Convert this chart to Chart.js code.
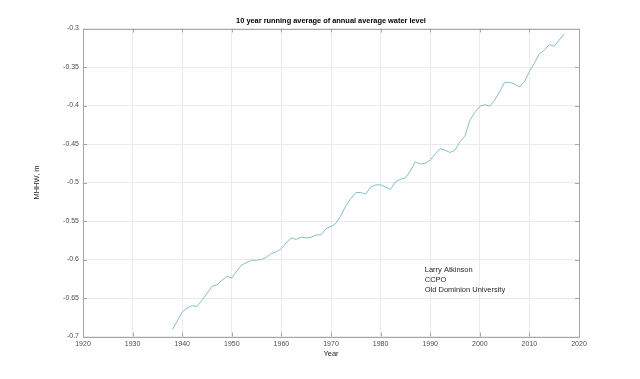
<!DOCTYPE html>
<html>
<head>
<meta charset="utf-8">
<script src="https://cdn.jsdelivr.net/npm/chart.js@4/dist/chart.umd.min.js"></script>
<style>
  html, body { margin: 0; padding: 0; background: #ffffff; }
  #wrap { width: 640px; height: 379px; position: relative; }
</style>
</head>
<body>
<div id="wrap"><canvas id="c" width="640" height="379"></canvas></div>
<script>
// ---- data ----
const years = [
  1938,1939,1940,1941,1942,1943,1944,1945,1946,1947,
  1948,1949,1950,1951,1952,1953,1954,1955,1956,1957,
  1958,1959,1960,1961,1962,1963,1964,1965,1966,1967,
  1968,1969,1970,1971,1972,1973,1974,1975,1976,1977,
  1978,1979,1980,1981,1982,1983,1984,1985,1986,1987,
  1988,1989,1990,1991,1992,1993,1994,1995,1996,1997,
  1998,1999,2000,2001,2002,2003,2004,2005,2006,2007,
  2008,2009,2010,2011,2012,2013,2014,2015,2016,2017
];
const mhhw = [
  -0.691,-0.680,-0.668,-0.663,-0.660,-0.661,-0.653,-0.644,-0.635,-0.633,
  -0.627,-0.622,-0.624,-0.615,-0.607,-0.604,-0.601,-0.601,-0.600,-0.597,
  -0.592,-0.590,-0.586,-0.578,-0.572,-0.574,-0.571,-0.572,-0.571,-0.568,
  -0.568,-0.560,-0.557,-0.553,-0.543,-0.530,-0.521,-0.513,-0.513,-0.515,
  -0.506,-0.503,-0.503,-0.506,-0.509,-0.499,-0.496,-0.494,-0.485,-0.473,
  -0.476,-0.475,-0.471,-0.463,-0.456,-0.458,-0.461,-0.458,-0.447,-0.440,
  -0.419,-0.409,-0.401,-0.399,-0.401,-0.393,-0.382,-0.370,-0.370,-0.372,
  -0.376,-0.369,-0.356,-0.345,-0.333,-0.328,-0.321,-0.323,-0.315,-0.307
];
const xTicks = [1920,1930,1940,1950,1960,1970,1980,1990,2000,2010,2020];
const yTicks = [-0.7,-0.65,-0.6,-0.55,-0.5,-0.45,-0.4,-0.35,-0.3];
const titleText = '10 year running average of annual average water level';
const xLabel = 'Year';
const yLabel = 'MHHW, m';
const noteLines = ['Larry Atkinson', 'CCPO', 'Old Dominion University'];
const noteAt = { x: 1988.9, y: -0.6135 };

// ---- chart ----
const FONT = '"Liberation Sans", Arial, Helvetica, sans-serif';
const AXIS_COLOR = '#a6a6a6';
const GRID_COLOR = '#ebebeb';

const framePlugin = {
  id: 'frame',
  afterDatasetsDraw(chart) {
    const { ctx, chartArea: a, scales } = chart;
    ctx.save();
    ctx.strokeStyle = AXIS_COLOR;
    ctx.lineWidth = 1;
    ctx.beginPath();
    ctx.rect(Math.round(a.left) + 0.5, Math.round(a.top) + 0.5,
             Math.round(a.right - a.left), Math.round(a.bottom - a.top));
    ctx.stroke();
    // inward tick marks
    const tl = 4;
    ctx.beginPath();
    scales.x.ticks.forEach(t => {
      const px = Math.round(scales.x.getPixelForValue(t.value)) + 0.5;
      ctx.moveTo(px, a.bottom); ctx.lineTo(px, a.bottom - tl);
      ctx.moveTo(px, a.top); ctx.lineTo(px, a.top + tl);
    });
    scales.y.ticks.forEach(t => {
      const py = Math.round(scales.y.getPixelForValue(t.value)) + 0.5;
      ctx.moveTo(a.left, py); ctx.lineTo(a.left + tl, py);
      ctx.moveTo(a.right, py); ctx.lineTo(a.right - tl, py);
    });
    ctx.stroke();
    // title, centred over the plot area
    ctx.fillStyle = '#000000';
    ctx.font = 'bold 7.4px ' + FONT;
    ctx.textAlign = 'center';
    ctx.textBaseline = 'middle';
    ctx.fillText(titleText, (a.left + a.right) / 2, a.top - 7.5);
    // annotation
    ctx.fillStyle = '#262626';
    ctx.font = '7.5px ' + FONT;
    ctx.textAlign = 'left';
    ctx.textBaseline = 'middle';
    const x0 = scales.x.getPixelForValue(noteAt.x);
    const y0 = scales.y.getPixelForValue(noteAt.y);
    noteLines.forEach((s, i) => ctx.fillText(s, x0, y0 + i * 10));
    ctx.restore();
  }
};

new Chart(document.getElementById('c'), {
  type: 'line',
  data: {
    datasets: [{
      data: years.map((y, i) => ({ x: y, y: mhhw[i] })),
      borderColor: '#84c0c6',
      borderWidth: 1,
      pointRadius: 0,
      tension: 0,
      fill: false
    }]
  },
  options: {
    responsive: false,
    animation: false,
    devicePixelRatio: 1,
    layout: { padding: { left: 0, right: 61, top: 28.5, bottom: 0 } },
    plugins: {
      legend: { display: false },
      tooltip: { enabled: false },
      title: { display: false }
    },
    scales: {
      x: {
        type: 'linear',
        min: 1920, max: 2020,
        afterBuildTicks(s) { s.ticks = xTicks.map(v => ({ value: v })); },
        afterFit(s) { s.height = 42.5; },
        grid: { color: GRID_COLOR, drawTicks: false },
        border: { display: false },
        ticks: {
          color: '#4d4d4d',
          font: { family: FONT, size: 7 },
          padding: 3,
          maxRotation: 0,
          callback: v => String(v)
        },
        title: {
          display: true, text: xLabel, color: '#262626',
          font: { family: FONT, size: 7.5 },
          padding: { top: 0, bottom: 21 }
        }
      },
      y: {
        type: 'linear',
        min: -0.7, max: -0.3,
        afterBuildTicks(s) { s.ticks = yTicks.map(v => ({ value: v })); },
        afterFit(s) { s.width = 83; },
        grid: { color: GRID_COLOR, drawTicks: false },
        border: { display: false },
        ticks: {
          color: '#4d4d4d',
          font: { family: FONT, size: 7 },
          padding: 4,
          callback: v => String(Number(v.toFixed(2)))
        },
        title: {
          display: true, text: yLabel, color: '#262626',
          font: { family: FONT, size: 7.5 },
          padding: { top: 32, bottom: 0 }
        }
      }
    }
  },
  plugins: [framePlugin]
});
</script>
</body>
</html>
